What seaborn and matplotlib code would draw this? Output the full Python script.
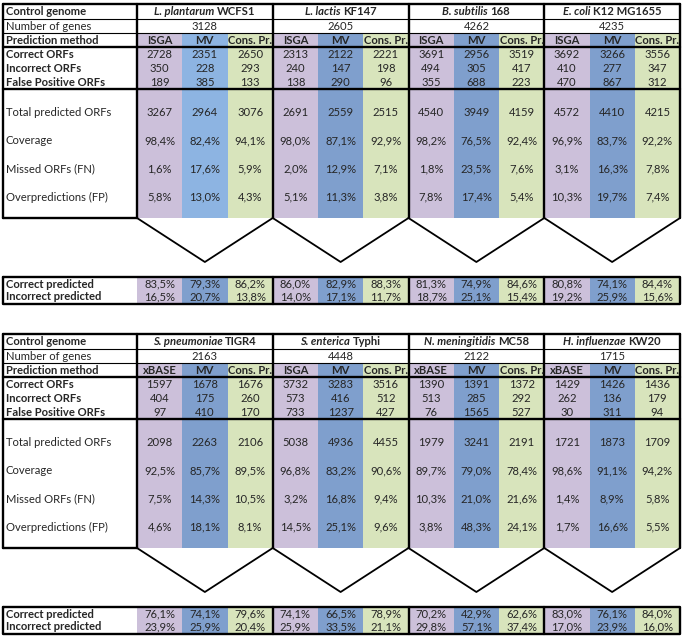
import numpy as np
import seaborn as sns
import matplotlib.pyplot as plt
from matplotlib.colors import ListedColormap

# ---- data -------------------------------------------------------------
top_genomes = [("L. plantarum", "WCFS1"), ("L. lactis", "KF147"),
               ("B. subtilis", "168"), ("E. coli", "K12 MG1655")]
top_genes = [3128, 2605, 4262, 4235]
top_methods = [["ISGA", "MV", "Cons. Pr."]] * 4
top_correct = [[2728, 2351, 2650], [2313, 2122, 2221], [3691, 2956, 3519], [3692, 3266, 3556]]
top_incorrect = [[350, 228, 293], [240, 147, 198], [494, 305, 417], [410, 277, 347]]
top_fp = [[189, 385, 133], [138, 290, 96], [355, 688, 223], [470, 867, 312]]
top_total = [[3267, 2964, 3076], [2691, 2559, 2515], [4540, 3949, 4159], [4572, 4410, 4215]]
top_coverage = [[98.4, 82.4, 94.1], [98.0, 87.1, 92.9], [98.2, 76.5, 92.4], [96.9, 83.7, 92.2]]
top_missed = [[1.6, 17.6, 5.9], [2.0, 12.9, 7.1], [1.8, 23.5, 7.6], [3.1, 16.3, 7.8]]
top_over = [[5.8, 13.0, 4.3], [5.1, 11.3, 3.8], [7.8, 17.4, 5.4], [10.3, 19.7, 7.4]]
top_corr_pred = [[83.5, 79.3, 86.2], [86.0, 82.9, 88.3], [81.3, 74.9, 84.6], [80.8, 74.1, 84.4]]
top_inc_pred = [[16.5, 20.7, 13.8], [14.0, 17.1, 11.7], [18.7, 25.1, 15.4], [19.2, 25.9, 15.6]]

bot_genomes = [("S. pneumoniae", "TIGR4"), ("S. enterica", "Typhi"),
               ("N. meningitidis", "MC58"), ("H. influenzae", "KW20")]
bot_genes = [2163, 4448, 2122, 1715]
bot_methods = [["xBASE", "MV", "Cons. Pr."], ["ISGA", "MV", "Cons. Pr."],
               ["xBASE", "MV", "Cons. Pr."], ["xBASE", "MV", "Cons. Pr."]]
bot_correct = [[1597, 1678, 1676], [3732, 3283, 3516], [1390, 1391, 1372], [1429, 1426, 1436]]
bot_incorrect = [[404, 175, 260], [573, 416, 512], [513, 285, 292], [262, 136, 179]]
bot_fp = [[97, 410, 170], [733, 1237, 427], [76, 1565, 527], [30, 311, 94]]
bot_total = [[2098, 2263, 2106], [5038, 4936, 4455], [1979, 3241, 2191], [1721, 1873, 1709]]
bot_coverage = [[92.5, 85.7, 89.5], [96.8, 83.2, 90.6], [89.7, 79.0, 78.4], [98.6, 91.1, 94.2]]
bot_missed = [[7.5, 14.3, 10.5], [3.2, 16.8, 9.4], [10.3, 21.0, 21.6], [1.4, 8.9, 5.8]]
bot_over = [[4.6, 18.1, 8.1], [14.5, 25.1, 9.6], [3.8, 48.3, 24.1], [1.7, 16.6, 5.5]]
bot_corr_pred = [[76.1, 74.1, 79.6], [74.1, 66.5, 78.9], [70.2, 42.9, 62.6], [83.0, 76.1, 84.0]]
bot_inc_pred = [[23.9, 25.9, 20.4], [25.9, 33.5, 21.1], [29.8, 57.1, 37.4], [17.0, 23.9, 16.0]]

# column colour codes: 0 lavender, 1 light blue, 2 blue, 3 green
top_colors = [0, 1, 3, 0, 2, 3, 0, 2, 3, 0, 2, 3]
strip_colors = [0, 2, 3] * 4
palette = ["#CCC0DA", "#8DB4E2", "#7F9FCD", "#D8E4BC"]

W, H = 683, 640
X0, XL, XR = 3, 137, 680
BW = (XR - XL) / 4.0
CW = BW / 3.0

sns.set_theme(style="white")
plt.rcParams["font.family"] = ["Lato", "DejaVu Sans"]
FS = 8.1

fig = plt.figure(figsize=(W / 100, H / 100), dpi=100)
cmap = ListedColormap(palette)


def px_axes(x1, y1, x2, y2):
    return fig.add_axes([x1 / W, 1 - y2 / H, (x2 - x1) / W, (y2 - y1) / H])


def pct(v):
    return f"{v:.1f}%".replace(".", ",")


def color_band(codes, y1, y2):
    hax = px_axes(XL, y1, XR, y2)
    sns.heatmap(np.array([codes]), cmap=cmap, vmin=-0.5, vmax=3.5, cbar=False,
                xticklabels=False, yticklabels=False, ax=hax, linewidths=0)
    hax.set_axis_off()


def draw_table(ax, off, genomes, genes, methods, rows_small, rows_big, rows_strip, colors):
    # coloured columns
    color_band(colors, off + 33, off + 218)
    color_band(strip_colors, off + 277, off + 304)

    tk, tn = 1.7, 0.8
    # horizontal lines
    ax.plot([X0, XR], [off + 4, off + 4], color="black", lw=tk)
    ax.plot([X0, XR], [off + 19, off + 19], color="black", lw=tn)
    ax.plot([X0, XR], [off + 33, off + 33], color="black", lw=tn)
    ax.plot([X0, XR], [off + 47, off + 47], color="black", lw=tk)
    ax.plot([X0, XR], [off + 89, off + 89], color="black", lw=tk)
    ax.plot([X0, XL], [off + 218, off + 218], color="black", lw=tk)
    # vertical lines
    for xv in [X0, XL, XL + BW, XL + 2 * BW, XL + 3 * BW, XR]:
        ax.plot([xv, xv], [off + 4, off + 218], color="black", lw=tk)
    # chevrons
    for g in range(4):
        xs = XL + g * BW
        ax.plot([xs, xs + BW / 2, xs + BW], [off + 218, off + 262, off + 218],
                color="black", lw=1.3)
    # bottom strip box
    ax.plot([X0, XR, XR, X0, X0], [off + 277, off + 277, off + 304, off + 304, off + 277],
            color="black", lw=tk)
    for g in range(1, 4):
        xv = XL + g * BW
        ax.plot([xv, xv], [off + 277, off + 304], color="black", lw=tk)

    # labels column
    lab = [("Control genome", 11.5, "bold"), ("Number of genes", 26, "normal"),
           ("Prediction method", 40, "bold")]
    for (name, _), yc in zip(rows_small, [54, 68, 82]):
        lab.append((name, yc, "bold"))
    for (name, _), yc in zip(rows_big, [113, 141, 169, 197]):
        lab.append((name, yc, "normal"))
    for (name, _), yc in zip(rows_strip, [284, 297]):
        lab.append((name, yc, "bold"))
    for name, yc, wt in lab:
        ax.text(X0 + 3, off + yc, name, ha="left", va="center", fontsize=FS,
                fontweight=wt)

    renderer = fig.canvas.get_renderer()
    for g in range(4):
        xs = XL + g * BW
        # genome header: italic species + strain
        sp, st = genomes[g]
        t1 = ax.text(0, off + 11.5, sp + " ", ha="left", va="center", fontsize=FS,
                     fontweight="bold", fontstyle="italic")
        t2 = ax.text(0, off + 11.5, st, ha="left", va="center", fontsize=FS,
                     fontweight="bold")
        w1 = t1.get_window_extent(renderer).width
        w2 = t2.get_window_extent(renderer).width
        start = xs + BW / 2 - (w1 + w2) / 2
        t1.set_x(start)
        t2.set_x(start + w1)
        ax.text(xs + BW / 2, off + 26, str(genes[g]), ha="center", va="center",
                fontsize=FS)
        for c in range(3):
            xc = xs + (c + 0.5) * CW
            ax.text(xc, off + 40, methods[g][c], ha="center", va="center",
                    fontsize=FS, fontweight="bold")
            for (_, vals), yc in zip(rows_small, [54, 68, 82]):
                ax.text(xc, off + yc, str(vals[g][c]), ha="center", va="center",
                        fontsize=FS)
            for i, ((_, vals), yc) in enumerate(zip(rows_big, [113, 141, 169, 197])):
                s = str(vals[g][c]) if i == 0 else pct(vals[g][c])
                ax.text(xc, off + yc, s, ha="center", va="center", fontsize=FS)
            for (_, vals), yc in zip(rows_strip, [284, 297]):
                ax.text(xc, off + yc, pct(vals[g][c]), ha="center", va="center",
                        fontsize=FS)


ax = fig.add_axes([0, 0, 1, 1], zorder=5)
ax.set_xlim(0, W)
ax.set_ylim(H, 0)
ax.set_axis_off()
ax.patch.set_alpha(0)

draw_table(ax, 0, top_genomes, top_genes, top_methods,
           [("Correct ORFs", top_correct), ("Incorrect ORFs", top_incorrect),
            ("False Positive ORFs", top_fp)],
           [("Total predicted ORFs", top_total), ("Coverage", top_coverage),
            ("Missed ORFs (FN)", top_missed), ("Overpredictions (FP)", top_over)],
           [("Correct predicted", top_corr_pred), ("Incorrect predicted", top_inc_pred)],
           top_colors)

draw_table(ax, 330, bot_genomes, bot_genes, bot_methods,
           [("Correct ORFs", bot_correct), ("Incorrect ORFs", bot_incorrect),
            ("False Positive ORFs", bot_fp)],
           [("Total predicted ORFs", bot_total), ("Coverage", bot_coverage),
            ("Missed ORFs (FN)", bot_missed), ("Overpredictions (FP)", bot_over)],
           [("Correct predicted", bot_corr_pred), ("Incorrect predicted", bot_inc_pred)],
           strip_colors)

fig.savefig("out.png", dpi=100)
